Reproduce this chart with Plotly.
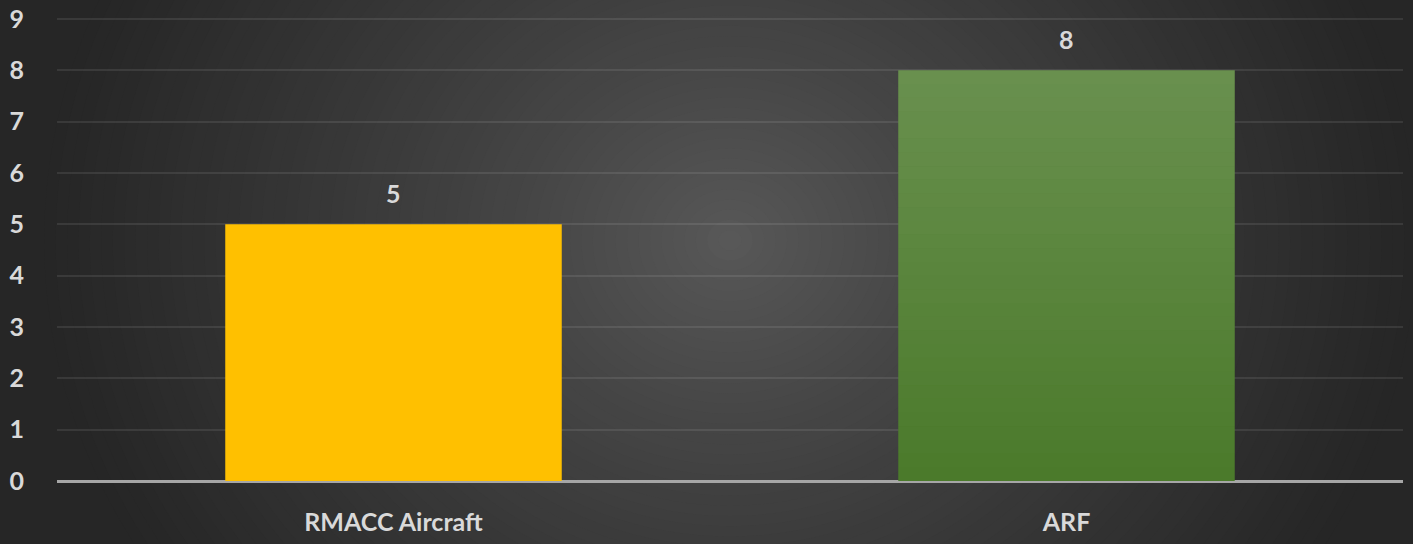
import plotly.graph_objects as go

categories = ["RMACC Aircraft", "ARF"]
values = [5, 8]
bar_colors = ["#FFC000", "#4B7A2B"]
y_ticks = list(range(0, 10))

FONT = "Lato"
TXT = "#D9D9D9"
W, H = 1413, 544

fig = go.Figure()
fig.add_trace(go.Bar(
    x=categories, y=values, width=0.5,
    marker=dict(color=bar_colors, line=dict(width=0)),
    hoverinfo="skip",
))

shapes = []
# radial background gradient (style only)
n = 60
R = 720.0
dark = 38
light = 90
for i in range(n):
    r = R * (1 - i / n)
    f = min(1.0, r / R) ** 0.8
    v = int(round(light - (light - dark) * f))
    hx = r / W
    hy = r / H
    shapes.append(dict(type="circle", xref="paper", yref="paper",
                       x0=0.5 - hx, x1=0.5 + hx,
                       y0=0.52 - hy, y1=0.52 + hy,
                       fillcolor="rgb(%d,%d,%d)" % (v, v, v), line=dict(width=0),
                       layer="below"))

# vertical gradient on the green bar (style only)
idx = 1
nb = 30
for j in range(nb):
    y0 = values[idx] * j / nb
    y1 = values[idx] * (j + 1) / nb
    a = 0.17 * (j + 0.5) / nb
    shapes.append(dict(type="rect", xref="x", yref="y",
                       x0=idx - 0.25, x1=idx + 0.25, y0=y0, y1=y1,
                       fillcolor="rgba(255,255,255,%.3f)" % a,
                       line=dict(width=0), layer="above"))

annotations = []
for c, v in zip(categories, values):
    annotations.append(dict(x=c, y=v, text=str(v), showarrow=False,
                            yshift=31, font=dict(family=FONT, size=25, color=TXT,
                                                  weight="bold")))

fig.update_layout(
    width=W, height=H,
    margin=dict(l=57, r=10, t=18, b=63, autoexpand=False),
    paper_bgcolor="#262626", plot_bgcolor="rgba(0,0,0,0)",
    showlegend=False, shapes=shapes, annotations=annotations,
    bargap=0.5,
    font=dict(family=FONT, color=TXT, size=25, weight="bold"),
)
fig.update_xaxes(showgrid=False, showline=False, ticks="", automargin=False,
                 tickfont=dict(family=FONT, size=25, color=TXT, weight="bold"),
                 ticklabelstandoff=24)
fig.update_yaxes(range=[0, 9.02], tickvals=y_ticks, showgrid=True, automargin=False,
                 gridcolor="rgba(255,255,255,0.09)", gridwidth=1.5,
                 zeroline=True, zerolinecolor="#A6A6A6", zerolinewidth=2.5,
                 showline=False, ticks="",
                 tickfont=dict(family=FONT, size=25, color=TXT, weight="bold"),
                 ticklabelstandoff=32)

fig.write_html("out.html", config={"displayModeBar": False},
               post_script="document.body.style.margin='0';document.body.style.overflow='hidden';")
